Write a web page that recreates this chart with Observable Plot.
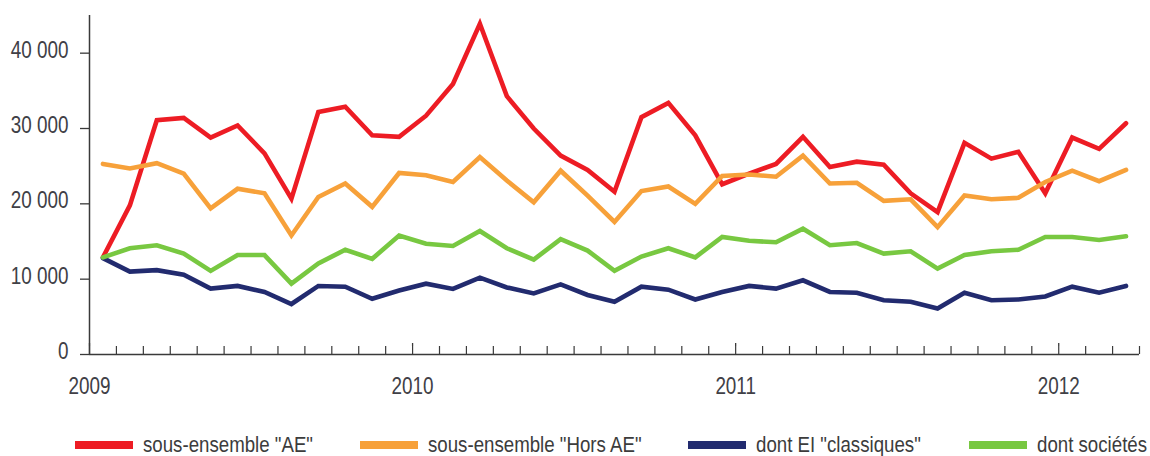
<!DOCTYPE html>
<html><head><meta charset="utf-8">
<script src="https://cdn.jsdelivr.net/npm/d3@7"></script>
<script src="https://cdn.jsdelivr.net/npm/@observablehq/plot@0.6"></script>
<style>
body{margin:0;background:#fff;font-family:"Liberation Sans Narrow","Liberation Sans",Arial,sans-serif;}
#legend{position:relative;height:36px;width:1150px;}
.item{position:absolute;top:15px;height:20px;display:flex;align-items:center;}
.sw{width:58px;height:8px;margin-right:10px;flex:none;}
.lab{display:inline-block;font-size:22.5px;color:#3c3c3c;white-space:nowrap;line-height:20px;transform:scaleX(0.83);transform-origin:0 50%;}
</style></head><body><div id="chart"></div><div id="legend"></div>
<script>
// Months: Jan 2009 .. Mar 2012
const months = d3.utcMonths(new Date(Date.UTC(2009,0,1)), new Date(Date.UTC(2012,3,1)));

const seriesNames = ['sous-ensemble "AE"', 'sous-ensemble "Hors AE"', 'dont EI "classiques"', 'dont sociétés'];
const seriesColors = ["#ED1C24", "#F7A13A", "#222B6F", "#78C841"];

const ae = [12900, 19800, 31100, 31400, 28800, 30400, 26700, 20700, 32200, 32900, 29100, 28900,
            31700, 35900, 43900, 34300, 30000, 26400, 24500, 21600, 31500, 33400, 29100, 22600,
            24000, 25300, 28900, 24900, 25600, 25200, 21400, 18900, 28100, 26000, 26900, 21400,
            28800, 27300, 30700];
const horsAe = [25300, 24700, 25400, 24000, 19400, 22000, 21400, 15800, 20900, 22700, 19600, 24100,
                23800, 22900, 26200, 23100, 20200, 24400, 21100, 17600, 21700, 22300, 20000, 23700,
                23900, 23600, 26400, 22700, 22800, 20400, 20600, 16900, 21100, 20600, 20800, 22900,
                24400, 23000, 24500];
const eiClassiques = [12800, 11000, 11200, 10600, 8750, 9100, 8300, 6700, 9100, 9000, 7400, 8500,
                      9400, 8700, 10200, 8900, 8100, 9300, 7900, 7000, 9000, 8600, 7300, 8300,
                      9100, 8750, 9850, 8300, 8200, 7200, 7000, 6100, 8200, 7200, 7300, 7700,
                      9000, 8200, 9100];
const societes = [12900, 14100, 14500, 13400, 11100, 13200, 13200, 9400, 12100, 13900, 12700, 15800,
                  14700, 14400, 16400, 14100, 12600, 15300, 13800, 11100, 13000, 14100, 12900, 15600,
                  15100, 14900, 16700, 14500, 14800, 13400, 13700, 11400, 13200, 13700, 13900, 15600,
                  15600, 15200, 15700];

const yTicks = [0, 10000, 20000, 30000, 40000];
const years = [2009, 2010, 2011, 2012];

// decimal year, plotted at mid-month
const toX = d => d.getUTCFullYear() + (d.getUTCMonth() + 0.5) / 12;
const monthTicks = d3.utcMonths(new Date(Date.UTC(2009,0,1)), new Date(Date.UTC(2012,4,1)))
  .map(d => d.getUTCFullYear() + d.getUTCMonth() / 12);

const seriesValues = [ae, horsAe, eiClassiques, societes];
const drawOrder = [0, 2, 3, 1];
const rows = [];
drawOrder.forEach(s => months.forEach((m, i) => rows.push({series: seriesNames[s], x: toX(m), y: seriesValues[s][i]})));

const fmt = d => d3.format(",")(d).replace(/,/g, " ");
const axisColor = "#3a3a3a";
const textColor = "#404046";
const fontStack = '"Liberation Sans Narrow","Liberation Sans",Arial,sans-serif';

const chart = Plot.plot({
  width: 1150, height: 420,
  marginLeft: 89, marginRight: 11, marginTop: 15, marginBottom: 66,
  x: {type: "linear", domain: [2009, 2012.25], axis: null},
  y: {domain: [0, 45000], axis: null},
  color: {domain: seriesNames, range: seriesColors},
  style: {fontFamily: fontStack, background: "#fff"},
  marks: [
    Plot.ruleY(yTicks, {y: d => d, x1: d => 2009, x2: d => 2009, insetLeft: -9, stroke: axisColor, strokeWidth: 1.3}),
    Plot.ruleX([2009], {x: d => d, y1: d => 0, y2: d => 45000, stroke: axisColor, strokeWidth: 1.5}),
    Plot.ruleY([0], {y: d => d, x1: d => 2009, x2: d => 2012.25, stroke: axisColor, strokeWidth: 1.5}),
    Plot.ruleX(monthTicks, {x: d => d, y1: d => 0, y2: d => 0, insetBottom: 8, stroke: axisColor, strokeWidth: 1.2}),
    Plot.ruleX(years, {x: d => d, y1: d => 0, y2: d => 0, insetTop: -11, insetBottom: 8, stroke: axisColor, strokeWidth: 1.3}),
    Plot.text(yTicks, {x: d => 2009, y: d => d, text: fmt, textAnchor: "end", dx: -21, dy: -3, fontSize: 23, fill: textColor}),
    Plot.text(years, {x: d => d, y: d => 0, text: d => String(d), dy: 32, fontSize: 23, fill: textColor}),
    Plot.line(rows, {x: "x", y: "y", z: "series", stroke: "series", strokeWidth: 4.6, strokeLinejoin: "miter", strokeMiterlimit: 10})
  ]
});
document.getElementById("chart").appendChild(chart);

// Narrow the SVG texts horizontally (Arial Narrow look)
chart.querySelectorAll("text").forEach(t => {
  const w = t.getComputedTextLength();
  if (w > 0) {
    t.setAttribute("textLength", (w * 0.82).toFixed(2));
    t.setAttribute("lengthAdjust", "spacingAndGlyphs");
  }
});

const legendX = [75, 360, 688, 969];
const legend = document.getElementById("legend");
seriesNames.forEach((name, i) => {
  const item = document.createElement("div");
  item.className = "item";
  item.style.left = legendX[i] + "px";
  const sw = document.createElement("div");
  sw.className = "sw";
  sw.style.background = seriesColors[i];
  const lab = document.createElement("span");
  lab.className = "lab";
  lab.textContent = name;
  item.appendChild(sw); item.appendChild(lab);
  legend.appendChild(item);
});
</script></body></html>
